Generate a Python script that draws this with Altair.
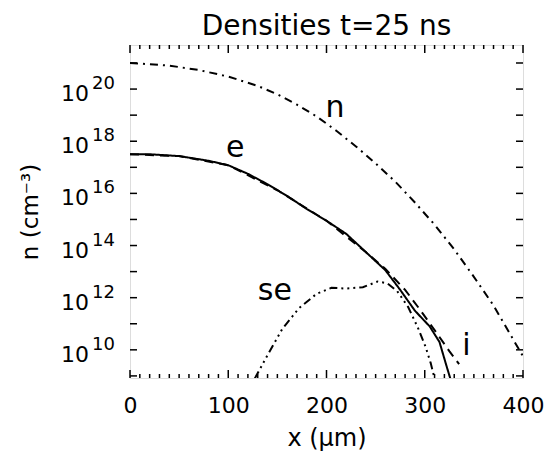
import altair as alt
import pandas as pd

# ---- data (log10 of density in cm^-3 versus x in micrometres) ----
n_x   = [0, 40, 70, 100, 130, 150, 170, 190, 210, 230, 250, 270, 290, 310, 330, 350, 370, 390, 400]
n_log = [21.0, 20.9, 20.73, 20.48, 20.12, 19.8, 19.4, 18.95, 18.4, 17.8, 17.15, 16.45, 15.65, 14.8, 13.85, 12.8, 11.7, 10.4, 9.75]

e_x   = [0, 20, 50, 80, 100, 120, 140, 160, 180, 200, 220, 240, 260, 275, 290, 305, 315, 322, 326]
e_log = [17.5, 17.5, 17.43, 17.25, 17.08, 16.75, 16.35, 15.9, 15.4, 14.95, 14.45, 13.75, 13.05, 12.3, 11.5, 10.9, 10.3, 9.4, 8.9]

i_x   = [0, 50, 100, 150, 200, 240, 260, 280, 295, 312, 325, 335]
i_log = [17.5, 17.43, 17.08, 16.12, 14.95, 13.75, 13.1, 12.3, 11.55, 10.65, 9.95, 9.45]

se_x   = [127, 140, 155, 172, 190, 205, 220, 237, 252, 262, 272, 283, 293, 301, 306, 310]
se_log = [8.9, 9.8, 10.8, 11.6, 12.15, 12.38, 12.35, 12.4, 12.62, 12.55, 12.25, 11.65, 10.85, 10.1, 9.5, 8.9]

series_names = ["n", "e", "i", "se"]
label_x   = [208.7, 107, 342.5, 147.5]
label_log = [18.93, 17.39, 9.80, 11.91]

x_labels = [0, 100, 200, 300, 400]
y_label_exps = [10, 12, 14, 16, 18, 20]
y_tick_exps = list(range(9, 22))
x_minor = list(range(0, 401, 10))
x_major = [0, 100, 200, 300, 400]

title_text = "Densities t=25 ns"
x_title = "x (μm)"
y_title = "n (cm⁻³)"

W, H = 393, 333
FONT = "DejaVu Sans"

rows = []
for name, xs, ls in [("n", n_x, n_log), ("e", e_x, e_log), ("i", i_x, i_log), ("se", se_x, se_log)]:
    for xv, lv in zip(xs, ls):
        rows.append({"x": xv, "dens": 10 ** lv, "s": name})
curves = pd.DataFrame(rows)

labels = pd.DataFrame({"x": label_x, "dens": [10 ** v for v in label_log], "t": series_names})
ylab = pd.DataFrame({"dens": [10.0 ** e for e in y_label_exps], "ex": [str(e) for e in y_label_exps], "ten": ["10"] * len(y_label_exps)})
ytk = pd.DataFrame({"dens": [10.0 ** e for e in y_tick_exps]})
xmin_df = pd.DataFrame({"x": [v for v in x_minor if v % 100 != 0]})
xmaj_df = pd.DataFrame({"x": x_major})

xscale = alt.Scale(domain=[0, 400], nice=False, zero=False)
yscale = alt.Scale(type="log", domain=[10 ** 8.92, 10 ** 21.69], nice=False)

xaxis = alt.Axis(values=x_labels, ticks=False, tickSize=0, domain=False, grid=False,
                 labelFont=FONT, labelFontSize=22, labelColor="black", labelPadding=17,
                 labelFlush=False, labelOverlap=False,
                 title=x_title, titleFont=FONT, titleFontSize=24, titleFontWeight="normal",
                 titleColor="black", titlePadding=10)
yaxis = alt.Axis(labels=False, ticks=False, domain=False, grid=False,
                 title=y_title, titleFont=FONT, titleFontSize=23, titleFontWeight="normal",
                 titleColor="black", titleX=-100, titleBaseline="middle")

X = lambda: alt.X("x:Q", scale=xscale, axis=xaxis)
Y = lambda: alt.Y("dens:Q", scale=yscale, axis=yaxis)

lines = alt.Chart(curves).mark_line(color="black", strokeWidth=2, clip=True).encode(
    x=X(), y=Y(),
    strokeDash=alt.StrokeDash("s:N", scale=alt.Scale(domain=series_names,
                              range=[[8, 5, 2, 5], [1, 0], [9, 6], [8, 4, 2, 4, 2, 4, 2, 4]]), legend=None),
    detail="s:N",
)

curve_labels = alt.Chart(labels).mark_text(font=FONT, fontSize=30, color="black",
                                           align="center", baseline="alphabetic").encode(
    x=X(), y=Y(), text="t:N",
)

ten = alt.Chart(ylab).mark_text(font=FONT, fontSize=22, color="black", align="right",
                                baseline="alphabetic", dy=12).encode(
    x=alt.value(-41), y=Y(), text="ten:N",
)
exps = alt.Chart(ylab).mark_text(font=FONT, fontSize=18, color="black", align="left",
                                 baseline="alphabetic", dy=0).encode(
    x=alt.value(-38), y=Y(), text="ex:N",
)

tk = dict(color="black", strokeWidth=1.5)
ytick_l = alt.Chart(ytk).mark_rule(**tk).encode(y=Y(), x=alt.value(0), x2=alt.value(7))
ytick_r = alt.Chart(ytk).mark_rule(**tk).encode(y=Y(), x=alt.value(W), x2=alt.value(W - 7))
xmin_b = alt.Chart(xmin_df).mark_rule(**tk).encode(x=X(), y=alt.value(H), y2=alt.value(H - 4))
xmin_t = alt.Chart(xmin_df).mark_rule(**tk).encode(x=X(), y=alt.value(0), y2=alt.value(4))
xmaj_b = alt.Chart(xmaj_df).mark_rule(**tk).encode(x=X(), y=alt.value(H), y2=alt.value(H - 8))
xmaj_t = alt.Chart(xmaj_df).mark_rule(**tk).encode(x=X(), y=alt.value(0), y2=alt.value(8))

chart = alt.layer(lines, curve_labels, ten, exps, ytick_l, ytick_r, xmin_b, xmin_t, xmaj_b, xmaj_t).properties(
    width=W, height=H,
    title=alt.TitleParams(title_text, font=FONT, fontSize=28, fontWeight="normal", color="black",
                          anchor="middle", offset=3, frame="group"),
    padding={"left": 130, "top": 45, "right": 23, "bottom": 73},
    autosize=alt.AutoSizeParams(type="none"),
).configure_view(stroke="black", strokeWidth=2).configure(background="white")

chart.save("out.html", embed_options={"renderer": "svg", "actions": False})
